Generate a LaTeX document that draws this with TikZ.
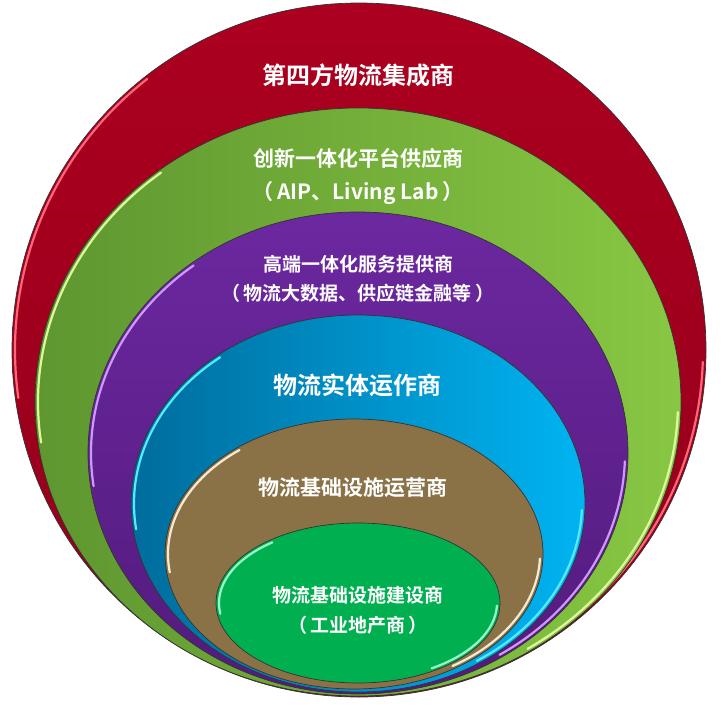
\documentclass[tikz,border=0pt]{standalone}
\usepackage{fontspec}
\usepackage{tikz}
\usetikzlibrary{shapes}
\newfontfamily\cjk{Noto Sans CJK SC Bold}
\definecolor{redtop}{HTML}{AC0020}
\definecolor{redbot}{HTML}{93001A}
\definecolor{platl}{HTML}{5E9630}
\definecolor{platr}{HTML}{88C743}
\definecolor{servt}{HTML}{6C28A0}
\definecolor{servb}{HTML}{521B7C}
\definecolor{entl}{HTML}{006C9C}
\definecolor{entr}{HTML}{00B4F2}
\definecolor{operc}{HTML}{8A7246}
\definecolor{buildc}{HTML}{00B050}
\tikzset{ring/.style={ellipse, draw=black!80, line width=.7pt, inner sep=0pt, #1 fill},
  fourth fill/.style={top color=redtop, bottom color=redbot},
  platform fill/.style={left color=platl, right color=platr},
  service fill/.style={top color=servt, bottom color=servb},
  entity fill/.style={left color=entl, right color=entr},
  operate fill/.style={fill=operc},
  build fill/.style={fill=buildc},
  rim/.style={line width=2.2pt, line cap=round},
  lab/.style={text=white, align=center, font=\cjk}}

\begin{document}
\begin{tikzpicture}[x=1pt,y=-1pt]
  \useasboundingbox (0,0) rectangle (726,707);
  \foreach \x/\y/\w/\h/\lab/\col in {
    359/350/694/694/fourth/FF6678,
    358/402/646/588/platform/DDFA9A,
    358/453/540/482/service/CF98FF,
    358/503.5/454/377/entity/55EAFF,
    354/554/378/270/operate/F6EAD2,
    358/603/284/160/build/96F8C8%
  } {
    \node[ring=\lab, minimum width=\w, minimum height=\h] (\lab) at (\x, \y) {};
    \definecolor{rimc}{HTML}{\col}
    \draw[rim, draw=rimc] (\x, \y) ++(172:\w/2-3 and \h/2-3)
      arc[start angle=172, end angle=232, x radius=\w/2-3, y radius=\h/2-3];
    \draw[rim, draw=rimc] (\x, \y) ++(2:\w/2-3 and \h/2-3)
      arc[start angle=2, end angle=58, x radius=\w/2-3, y radius=\h/2-3];
  }
  \foreach \x/\y/\fs/\lh/\lab/\txt in {
    358/75/24/30/fourth/第四方物流集成商,
    358/176.5/21/33/platform/创新一体化平台供应商\\（\,AIP、Living Lab\,）,
    358/279/19/28.5/service/高端一体化服务提供商\\（\,物流大数据、供应链金融等\,）,
    357/385/24/30/entity/物流实体运作商,
    353/488/21/26/operate/物流基础设施运营商,
    358/610/19/30/build/物流基础设施建设商\\（\,工业地产商\,）%
  } {
    \node[lab, font=\cjk\fontsize{\fs}{\lh}\selectfont] (\lab-text) at (\x, \y) {\txt};
  }
\end{tikzpicture}
\end{document}
